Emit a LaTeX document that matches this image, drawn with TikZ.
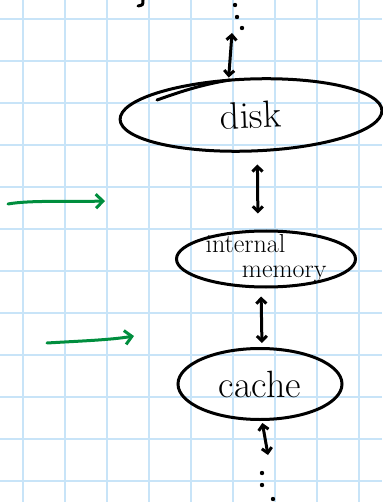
\documentclass[tikz,border=0pt]{standalone}
\usetikzlibrary{shapes.geometric,arrows.meta}

\definecolor{gridblue}{RGB}{200,228,248}
\definecolor{pengreen}{RGB}{0,142,62}

\tikzset{
  level/.style={ellipse, draw, line width=3pt, inner sep=0pt},
  updown/.style={{Straight Barb[length=5pt,width=10pt]}-{Straight Barb[length=5pt,width=10pt]}, line width=3pt, line cap=round},
  hint/.style={-{Straight Barb[length=7pt,width=14pt]}, pengreen, line width=3pt, line cap=round},
}

\begin{document}
\begin{tikzpicture}[x=1pt,y=-1pt]
  \useasboundingbox (0,0) rectangle (382,502);

  % Grid paper
  \foreach \gx in {23,65,...,359}
    \draw[gridblue, line width=1.2pt] (\gx,0) -- (\gx,502);
  \foreach \gy in {19,61,...,481}
    \draw[gridblue, line width=1.2pt] (0,\gy) -- (382,\gy);

  % Memory levels
  \node[level, minimum width=262pt, minimum height=72pt, rotate=2,
        font=\fontsize{38}{40}\selectfont] (disk) at (251,115) {disk};
  \node[level, minimum width=179pt, minimum height=56pt, align=left,
        inner xsep=-6pt, inner ysep=-5pt,
        font=\fontsize{26}{25}\selectfont] (mem) at (266,259) {internal\\\hspace*{1.4em}memory};
  \node[level, minimum width=164pt, minimum height=71pt,
        font=\fontsize{38}{40}\selectfont] (cache) at (260,384) {cache};

  % Loose ends
  \coordinate (up) at (232,33);
  \coordinate (down) at (268,455);
  \coordinate (g1a) at (8,204);
  \coordinate (g1b) at (105,201);
  \coordinate (g2a) at (47,343);
  \coordinate (g2b) at (134,336);

  \foreach \dx/\dy in {235/5, 237/17, 242/28, 262/473, 262/485, 273/499}
    \fill (\dx,\dy) circle (2.2pt);

  % Transfers between levels
  \draw[updown] (up) -- ([xshift=-21pt]disk.north);
  \draw[updown, shorten <=12pt, shorten >=16pt] ([xshift=5pt]disk.south) -- ([xshift=-8pt]mem.north);
  \draw[updown, shorten <=8pt, shorten >=4pt] ([xshift=-5pt]mem.south) -- ([xshift=2pt]cache.north);
  \draw[updown, shorten <=2pt] ([xshift=2pt]cache.south) -- (down);

  % Pen strokes
  \draw[line width=3pt, line cap=round] (157,100) .. controls (185,90) and (205,84) .. (230,80);
  \draw[line width=3pt, line cap=round] (143,0) .. controls (143,5) .. (138,6);

  \draw[hint] (g1a) .. controls (30,200) and (70,202) .. (g1b);
  \draw[hint] (g2a) .. controls (80,341) and (110,340) .. (g2b);
\end{tikzpicture}
\end{document}
